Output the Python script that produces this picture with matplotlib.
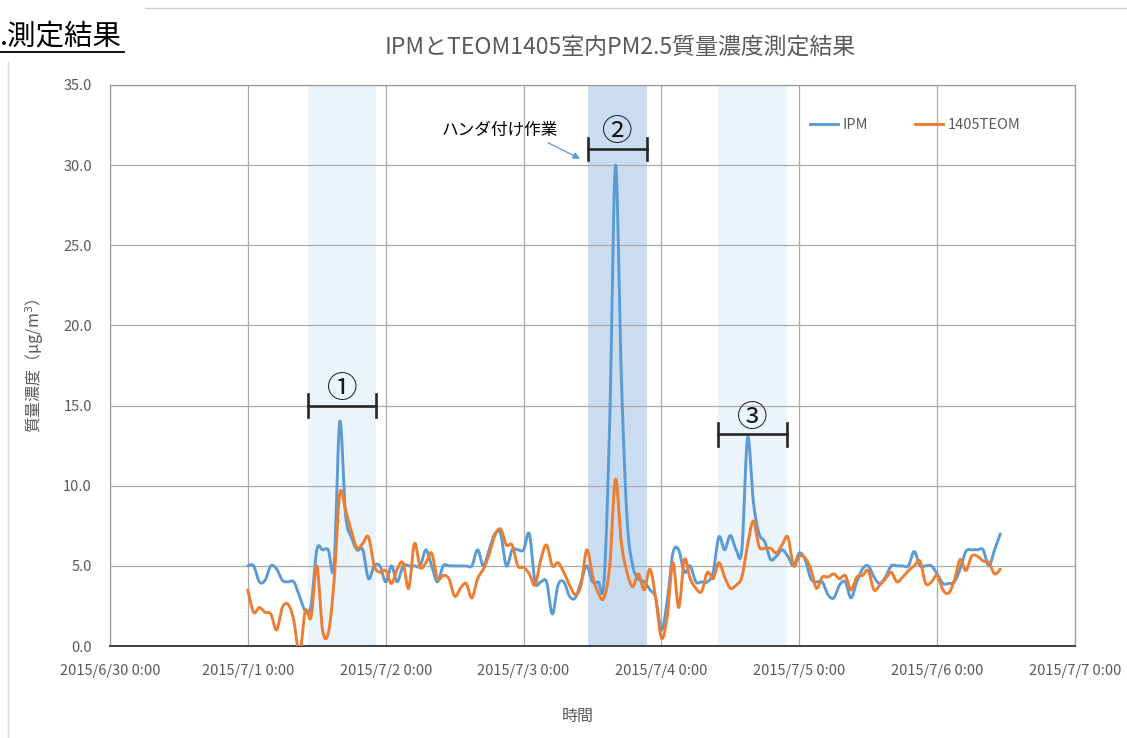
import numpy as np
import pandas as pd
import matplotlib
matplotlib.use("Agg")
import matplotlib.pyplot as plt
import matplotlib.dates as mdates
from matplotlib.lines import Line2D

plt.rcParams['font.family'] = ['Noto Sans CJK JP', 'DejaVu Sans']

# ---------------- data (hourly, starting 2015/7/1 0:00) ----------------
start_time = "2015-07-01 00:00"
ipm = [5.0, 5.0, 4.0, 4.1, 5.0, 4.8, 4.1, 4.0, 4.0, 3.1,
       2.2, 2.5, 6.0, 6.0, 6.0, 5.0, 14.0, 8.2, 6.8, 6.0,
       6.0, 4.2, 5.0, 5.0, 4.0, 5.0, 4.0, 5.0, 5.0, 5.0,
       5.0, 6.0, 5.0, 4.0, 5.0, 5.0, 5.0, 5.0, 5.0, 5.0,
       6.0, 5.0, 6.0, 7.0, 7.0, 5.0, 6.0, 6.0, 6.0, 7.0,
       4.0, 4.0, 4.0, 2.0, 3.8, 4.0, 3.1, 3.0, 4.0, 5.0,
       4.0, 4.0, 4.0, 14.0, 30.0, 17.0, 8.0, 5.0, 4.2, 4.0,
       3.5, 3.0, 1.0, 2.8, 5.8, 6.0, 4.6, 5.0, 4.0, 4.0,
       4.0, 4.6, 6.8, 6.0, 6.9, 6.0, 6.0, 13.0, 9.0, 7.0,
       6.5, 5.4, 5.6, 6.0, 5.6, 5.0, 5.8, 5.4, 4.2, 4.0,
       4.0, 3.2, 3.0, 3.8, 4.0, 3.0, 4.0, 4.8, 5.0, 4.3,
       3.9, 4.3, 5.0, 5.0, 5.0, 5.0, 5.9, 5.0, 5.0, 5.0,
       4.5, 3.9, 3.9, 4.0, 4.8, 5.9, 6.0, 6.0, 6.0, 5.0,
       6.0, 7.0]
teom = [3.5, 2.1, 2.4, 2.1, 2.0, 1.0, 2.4, 2.6, 1.6, -0.5,
        2.2, 1.8, 5.0, 1.0, 0.8, 4.0, 9.5, 8.5, 7.2, 6.1,
        6.4, 6.8, 5.0, 4.6, 4.7, 3.9, 4.8, 5.2, 3.6, 6.4,
        4.9, 5.2, 5.8, 4.2, 4.4, 4.2, 3.1, 3.6, 3.9, 3.0,
        4.2, 4.8, 5.7, 6.9, 7.3, 6.3, 6.3, 5.0, 4.9, 4.5,
        3.8, 5.4, 6.3, 5.0, 5.2, 4.6, 3.8, 3.2, 3.8, 6.0,
        4.4, 3.3, 3.0, 5.0, 10.4, 6.5, 4.6, 3.7, 4.5, 3.5,
        4.8, 3.0, 0.5, 1.8, 5.2, 2.4, 5.4, 4.2, 3.6, 3.4,
        4.6, 4.2, 5.2, 4.3, 3.6, 3.8, 4.3, 6.3, 7.8, 6.2,
        6.1, 6.1, 5.8, 6.3, 6.8, 5.0, 5.6, 5.5, 4.8, 3.6,
        4.3, 4.3, 4.5, 4.2, 4.4, 3.5, 4.3, 4.4, 4.7, 3.5,
        3.8, 4.2, 4.6, 4.0, 4.3, 4.7, 5.0, 5.3, 3.9, 4.0,
        4.4, 3.5, 3.3, 4.1, 5.4, 4.7, 5.6, 5.6, 5.3, 5.2,
        4.5, 4.8]
series_names = ["IPM", "1405TEOM"]

# measurement periods (shaded bands) and their labels
band_starts = ["2015-07-01 10:26", "2015-07-03 11:10", "2015-07-04 09:48"]
band_ends = ["2015-07-01 22:17", "2015-07-03 21:26", "2015-07-04 21:48"]
band_labels = ["①", "②", "③"]
band_bar_levels = [15.0, 31.0, 13.2]

x_tick_dates = ["2015-06-30", "2015-07-01", "2015-07-02", "2015-07-03",
                "2015-07-04", "2015-07-05", "2015-07-06", "2015-07-07"]
x_tick_labels = ["2015/6/30 0:00", "2015/7/1 0:00", "2015/7/2 0:00",
                 "2015/7/3 0:00", "2015/7/4 0:00", "2015/7/5 0:00",
                 "2015/7/6 0:00", "2015/7/7 0:00"]
y_ticks = [0, 5, 10, 15, 20, 25, 30, 35]

title = "IPMとTEOM1405室内PM2.5質量濃度測定結果"
x_label = "時間"
y_label = "質量濃度（μg/m$^3$）"
note_text = "ハンダ付け作業"
header_text = ".測定結果"

# ---------------- helpers ----------------
def smooth_curve(x, y, n=16):
    """Excel-style smoothed line (Catmull-Rom Bezier through the points)."""
    x = np.asarray(x, float)
    y = np.asarray(y, float)
    m = len(x)
    xs, ys = [], []
    t = np.linspace(0, 1, n, endpoint=False)
    for i in range(m - 1):
        i0, i3 = max(i - 1, 0), min(i + 2, m - 1)
        p0 = np.array([x[i0], y[i0]]); p1 = np.array([x[i], y[i]])
        p2 = np.array([x[i + 1], y[i + 1]]); p3 = np.array([x[i3], y[i3]])
        c1 = p1 + (p2 - p0) / 6.0
        c2 = p2 - (p3 - p1) / 6.0
        b = ((1 - t) ** 3)[:, None] * p1 + (3 * (1 - t) ** 2 * t)[:, None] * c1 \
            + (3 * (1 - t) * t ** 2)[:, None] * c2 + (t ** 3)[:, None] * p2
        xs.append(b[:, 0]); ys.append(b[:, 1])
    xs.append([x[-1]]); ys.append([y[-1]])
    return np.concatenate(xs), np.concatenate(ys)

# ---------------- figure ----------------
fig = plt.figure(figsize=(11.27, 7.38), dpi=100)
W, H = 1127, 738
ax = fig.add_axes([110 / W, 1 - 646 / H, (1075 - 110) / W, (646 - 85) / H])

times = pd.date_range(start_time, periods=len(ipm), freq="h")
tx = mdates.date2num(times.to_pydatetime())

blue = "#5B9BD5"
orange = "#ED7D31"
band_colors = ["#EBF3FB", "#CADDF0", "#EBF3FB"]

for s, e, c in zip(band_starts, band_ends, band_colors):
    ax.axvspan(mdates.date2num(pd.Timestamp(s)), mdates.date2num(pd.Timestamp(e)),
               color=c, zorder=0, lw=0)

sx, sy = smooth_curve(tx, ipm)
ax.plot(sx, sy, color=blue, lw=2.1, zorder=3, solid_capstyle="round")
sx, sy = smooth_curve(tx, teom)
ax.plot(sx, sy, color=orange, lw=2.1, zorder=3, solid_capstyle="round")

# axes
xt = mdates.date2num([pd.Timestamp(d) for d in x_tick_dates])
ax.set_xlim(xt[0], xt[-1])
ax.set_ylim(0, 35)
ax.set_xticks(xt)
ax.set_xticklabels(x_tick_labels)
ax.set_yticks(y_ticks)
ax.set_yticklabels([f"{v:.1f}" for v in y_ticks])
ax.tick_params(axis="both", length=0, labelsize=10.5, colors="#595959")
ax.tick_params(axis="y", pad=13)
ax.tick_params(axis="x", pad=13)
ax.grid(True, color="#ABABAB", lw=0.9, zorder=1)
ax.set_axisbelow(True)
for side in ["top", "right", "left"]:
    ax.spines[side].set_color("#9A9A9A")
    ax.spines[side].set_linewidth(0.9)
ax.spines["bottom"].set_color("#404040")
ax.spines["bottom"].set_linewidth(1.4)

ax.set_ylabel(y_label, fontsize=11.5, color="#595959")
ax.yaxis.set_label_coords(-0.066, 0.5)
ax.set_xlabel(x_label, fontsize=11.5, color="#595959")
ax.xaxis.set_label_coords(0.485, -0.111)

fig.text(620 / W, 1 - 47 / H, title, fontsize=16.5, color="#595959",
         ha="center", va="center")

# legend
handles = [Line2D([], [], color=blue, lw=2.1), Line2D([], [], color=orange, lw=2.1)]
ax.legend(handles, series_names, loc="upper left",
          bbox_to_anchor=((810 - 110) / 965, (646 - 118) / 561),
          ncol=2, frameon=False, fontsize=10.5, handlelength=1.9,
          handletextpad=0.35, columnspacing=3.2, borderpad=0, borderaxespad=0,
          labelcolor="#595959")

# I-beam markers and circled numbers over each period
for s, e, lab, lvl in zip(band_starts, band_ends, band_labels, band_bar_levels):
    x0 = mdates.date2num(pd.Timestamp(s)); x1 = mdates.date2num(pd.Timestamp(e))
    ax.plot([x0, x1], [lvl, lvl], color="#262626", lw=1.9, zorder=5)
    ax.plot([x0, x0], [lvl - 0.7, lvl + 0.7], color="#262626", lw=1.9, zorder=5)
    ax.plot([x1, x1], [lvl - 0.7, lvl + 0.7], color="#262626", lw=1.9, zorder=5)
    ax.text((x0 + x1) / 2, lvl + 0.05, lab, fontsize=22, ha="center", va="bottom",
            color="#1a1a1a", zorder=6)

# note with arrow
note_x = mdates.date2num(pd.Timestamp("2015-07-02 19:55"))
ax.text(note_x, 32.2, note_text, fontsize=12, ha="center", va="center", color="black")
ax.annotate("", xy=(mdates.date2num(pd.Timestamp("2015-07-03 09:50")), 30.4),
            xytext=(mdates.date2num(pd.Timestamp("2015-07-03 04:15")), 31.4),
            arrowprops=dict(arrowstyle="-|>", color=blue, lw=0.9,
                            mutation_scale=10, shrinkA=0, shrinkB=0))

# slide decorations
fig.text(0.0, 1 - 36 / H, header_text, fontsize=20.5, color="black",
         ha="left", va="center")
fig.add_artist(Line2D([0, 124 / W], [1 - 52 / H, 1 - 52 / H], color="black", lw=1.3))
fig.add_artist(Line2D([145 / W, 1.0], [1 - 8 / H, 1 - 8 / H], color="#D0D0D0", lw=1.0))
fig.add_artist(Line2D([8 / W, 8 / W], [0, 1 - 62 / H], color="#D9D9D9", lw=1.0))

fig.savefig("out.png", dpi=100)
